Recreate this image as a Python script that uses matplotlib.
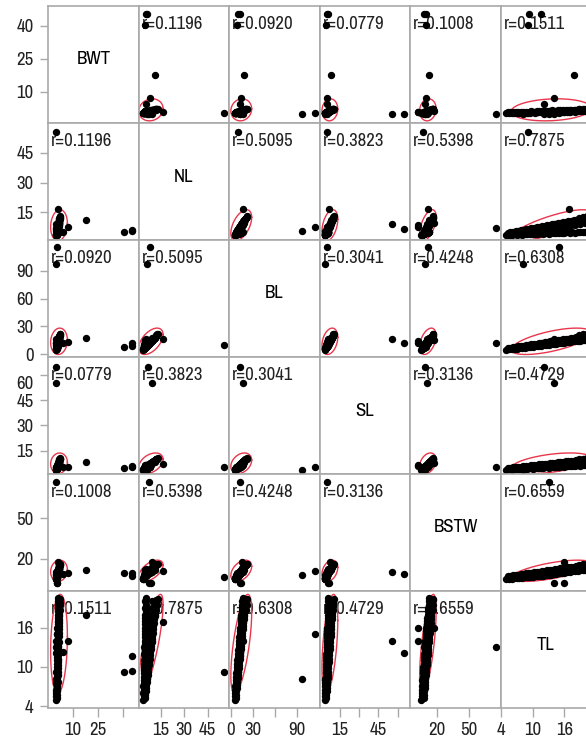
import numpy as np
import matplotlib
matplotlib.use('Agg')
from matplotlib import pyplot as plt
from matplotlib import font_manager

names = ['BWT', 'NL', 'BL', 'SL', 'BSTW', 'TL']

tl = [5.0, 5.5, 6.0, 6.5, 7.0, 7.5, 8.0, 8.5, 9.0, 9.5, 10.0, 10.5, 11.0, 11.5, 12.0, 12.5,
      13.0, 13.5, 14.0, 14.5, 15.0, 15.5, 16.0, 16.5, 17.0, 17.5, 18.0, 18.5, 19.0, 19.5, 20.0, 20.5,
      5.25, 5.75, 6.25, 6.75, 7.25, 7.75, 8.25, 8.75, 9.25, 9.75, 10.25, 10.75, 11.25, 11.75, 12.25,
      12.75, 13.25, 13.75, 14.25, 14.75, 15.25, 15.75, 16.25, 16.75, 17.25, 17.75, 18.25, 18.75,
      19.25, 19.75, 20.25,
      11.0, 12.0, 13.0, 14.0, 15.0, 16.0, 17.0, 18.0, 19.0, 20.0,
      20.3, 19.5, 18.7,
      9.2, 9.3, 11.6, 17.9, 14.0, 12.2, 9.2, 16.9, 15.0, 8.2, 12.1, 14.0, 13.1, 15.9, 14.0, 15.9]
nl = [3.5, 3.8, 3.6, 3.9, 3.7, 4.0, 3.8, 4.1, 3.9, 4.2, 4.0, 4.3, 4.1, 4.4, 4.2, 4.5,
      4.3, 4.6, 4.4, 4.7, 4.5, 4.8, 4.6, 4.9, 4.7, 5.0, 4.8, 5.1, 4.9, 5.2, 5.0, 5.3,
      4.6, 4.9, 5.1, 5.4, 5.6, 5.9, 6.1, 6.4, 6.6, 6.9, 7.1, 7.4, 7.6, 7.9, 8.1,
      8.4, 8.6, 8.9, 9.1, 9.4, 9.6, 9.9, 10.1, 10.4, 10.6, 10.9, 11.1, 11.4,
      11.6, 11.9, 12.1,
      5.8, 6.2, 6.6, 7.0, 7.4, 7.8, 8.2, 8.6, 9.0, 9.4,
      13.0, 12.6, 12.0,
      5.0, 5.5, 6.0, 11.2, 7.8, 5.2, 55.5, 16.5, 7.8, 5.8, 6.5, 9.2, 7.0, 8.5, 7.5, 9.5]
bl = [5.0, 5.6, 5.4, 6.1, 6.0, 6.6, 6.8, 7.2, 7.4, 7.9, 8.1, 8.6, 8.8, 9.3, 9.6, 10.1,
      10.3, 10.8, 11.0, 11.5, 11.7, 12.3, 12.5, 13.0, 13.3, 13.8, 14.1, 14.6, 14.8, 15.3, 15.5, 16.0,
      6.6, 7.0, 7.5, 7.9, 8.4, 8.8, 9.3, 9.7, 10.2, 10.6, 11.1, 11.5, 12.0, 12.4, 12.9,
      13.3, 13.8, 14.2, 14.7, 15.1, 15.6, 16.0, 16.5, 16.9, 17.4, 17.8, 18.3, 18.7,
      19.2, 19.6, 20.1,
      10.5, 11.3, 12.0, 12.8, 13.6, 14.3, 15.1, 15.9, 16.6, 17.4,
      21.5, 22.0, 20.5,
      8.2, 8.9, 12.5, 17.6, 13.5, 12.0, 10.0, 16.5, 115.0, 97.0, 12.6, 16.5, 12.0, 14.0, 12.0, 15.0]
sl = [3.6, 3.9, 3.7, 4.0, 3.8, 4.1, 4.0, 4.3, 4.2, 4.4, 4.3, 4.6, 4.5, 4.8, 4.7, 5.0,
      4.9, 5.2, 5.1, 5.4, 5.3, 5.6, 5.5, 5.8, 5.7, 6.0, 5.9, 6.2, 6.1, 6.3, 6.2, 6.4,
      4.6, 4.8, 5.0, 5.2, 5.3, 5.5, 5.7, 5.9, 6.1, 6.2, 6.4, 6.6, 6.8, 6.9, 7.1,
      7.3, 7.5, 7.7, 7.8, 8.0, 8.2, 8.4, 8.6, 8.7, 8.9, 9.1, 9.3, 9.5,
      9.6, 9.8, 10.0,
      5.6, 6.0, 6.3, 6.6, 7.0, 7.3, 7.6, 7.9, 8.2, 8.5,
      10.5, 10.2, 9.9,
      4.5, 5.5, 5.8, 8.2, 5.2, 5.0, 5.0, 7.2, 5.3, 3.5, 65.0, 55.3, 5.5, 6.5, 6.0, 7.5]
bstw = [5.2, 5.6, 5.4, 5.9, 5.8, 6.2, 6.1, 6.5, 6.4, 6.9, 7.0, 7.3, 7.2, 7.7, 7.6, 8.1,
        8.0, 8.5, 8.8, 9.1, 9.3, 9.7, 9.9, 10.2, 10.5, 10.9, 11.0, 11.4, 11.6, 12.0, 12.1, 12.5,
        7.3, 7.6, 7.9, 8.2, 8.4, 8.8, 9.0, 9.3, 9.6, 9.9, 10.1, 10.4, 10.7, 11.0, 11.3,
        11.6, 11.8, 12.1, 12.4, 12.7, 13.0, 13.2, 13.5, 13.8, 14.1, 14.4, 14.6, 14.9,
        15.2, 15.5, 15.8,
        9.0, 9.6, 10.1, 10.7, 11.2, 11.7, 12.3, 12.8, 13.4, 13.9,
        16.5, 16.2, 15.8,
        9.5, 7.5, 9.9, 11.9, 9.4, 9.0, 7.0, 11.0, 11.0, 8.5, 9.0, 10.2, 76.5, 2.0, 2.0, 17.5]
bwt = [0.2, 0.3, 0.2, 0.3, 0.4, 0.3, 0.4, 0.5, 0.4, 0.5, 0.6, 0.5, 0.6, 0.7, 0.6, 0.7,
       0.8, 0.7, 0.8, 0.9, 0.8, 0.9, 1.0, 0.9, 1.0, 1.1, 1.0, 1.1, 1.2, 1.1, 1.2, 1.3,
       0.6, 0.7, 0.6, 0.8, 0.7, 0.9, 0.8, 1.0, 0.9, 1.1, 1.0, 1.2, 1.1, 1.3, 1.2,
       1.4, 1.3, 1.5, 1.4, 1.6, 1.5, 1.7, 1.6, 1.8, 1.7, 1.9, 1.8, 2.0,
       1.9, 2.1, 2.0,
       0.9, 1.0, 1.1, 1.2, 1.3, 1.4, 1.5, 1.6, 1.7, 1.8,
       2.3, 2.2, 2.4,
       40.6, 45.4, 45.4, 17.7, 7.2, 4.3, 0.2, 0.9, 0.5, 0.1, 0.1, 0.1, 0.1, 0.8, 0.7, 1.2]

# correlations printed in the panels
r_matrix = [
    [1.0, 0.1196, 0.0920, 0.0779, 0.1008, 0.1511],
    [0.1196, 1.0, 0.5095, 0.3823, 0.5398, 0.7875],
    [0.0920, 0.5095, 1.0, 0.3041, 0.4248, 0.6308],
    [0.0779, 0.3823, 0.3041, 1.0, 0.3136, 0.4729],
    [0.1008, 0.5398, 0.4248, 0.3136, 1.0, 0.6559],
    [0.1511, 0.7875, 0.6308, 0.4729, 0.6559, 1.0],
]

# centre and spread used by the 95% density ellipses
ell_mean = [1.8, 8.5, 14.0, 7.5, 11.3, 13.5]
ell_sd = [2.05, 3.2, 5.8, 2.5, 3.2, 3.1]

# axis ranges and ticks
x_lims = [(-4.6, 49.5), (0.7, 59.0), (-2.3, 121.0), (-0.3, 69.8), (-5.4, 80.6), (3.96, 21.1)]
y_lims = [(-4.2, 49.1), (1.06, 60.1), (-2.9, 123.0), (1.1, 70.7), (-3.6, 82.6), (3.7, 21.6)]
x_ticks = [[10, 25, 40], [15, 30, 45], [0, 30, 60, 90], [15, 30, 45, 60], [20, 50], [4, 10, 16]]
x_tick_labels = [['10', '25', ''], ['15', '30', '45'], ['0', '30', '', '90'],
                 ['15', '', '45', ''], ['20', '50'], ['4', '10', '16']]
y_ticks = [[10, 25, 40], [15, 30, 45], [0, 30, 60, 90], [15, 30, 45, 60], [20, 50], [4, 10, 16]]
y_tick_labels = [['10', '25', '40'], ['15', '30', '45'], ['0', '30', '60', '90'],
                 ['15', '30', '45', ''], ['20', '50'], ['4', '10', '16']]

GRAY = '#a9a9a9'
RED = '#e8374c'


def pick_font():
    # prefer a narrow face, the labels in the original are condensed
    found = font_manager.fontManager.ttflist
    for f in found:
        if 'Narrow' in f.name and f.style == 'normal':
            return {'family': f.name, 'stretch': f.stretch}, 13.5
    for f in found:
        if f.stretch in ('condensed', 'semi-condensed') and f.style == 'normal' and f.weight in (400, 'normal'):
            return {'family': f.name, 'stretch': f.stretch}, 13.5
    return {'family': 'Liberation Sans', 'stretch': 'normal'}, 10.5


def density_ellipse(mx, my, sx, sy, r, level=0.95):
    c = np.sqrt(-2 * np.log(1 - level))
    t = np.linspace(0, 2 * np.pi, 240)
    u, v = np.cos(t), np.sin(t)
    return mx + c * sx * u, my + c * sy * (r * u + np.sqrt(1 - r ** 2) * v)


def main():
    font, fs = pick_font()
    plt.rcParams['font.family'] = [font['family'], 'DejaVu Sans']
    plt.rcParams['font.stretch'] = font['stretch']
    data = [np.array(bwt), np.array(nl), np.array(bl), np.array(sl), np.array(bstw), np.array(tl)]

    W, H = 586, 743
    left0, top0, pw, ph = 48.3, 6.0, 90.5, 117.0
    fig = plt.figure(figsize=(W / 100, H / 100), dpi=100)

    n = len(names)
    for i in range(n):
        for j in range(n):
            ax = fig.add_axes([(left0 + j * pw) / W, 1 - (top0 + (i + 1) * ph) / H, pw / W, ph / H])
            ax.set_xlim(*x_lims[j])
            ax.set_ylim(*y_lims[i])
            for s in ax.spines.values():
                s.set_color(GRAY)
                s.set_linewidth(1.2)
            ax.tick_params(colors=GRAY, labelcolor='#222222', labelsize=fs, length=6, width=1.0)

            if j == 0:
                ax.set_yticks(y_ticks[i], y_tick_labels[i])
                ax.tick_params(axis='y', pad=4.5)
            else:
                ax.set_yticks([])
            if i == n - 1:
                ax.set_xticks(x_ticks[j], x_tick_labels[j])
                ax.tick_params(axis='x', length=6.5, pad=3.5)
            else:
                ax.set_xticks([])

            if i == j:
                ax.text(0.5, 1 - 53.5 / ph, names[i], ha='center', va='center',
                        fontsize=fs, transform=ax.transAxes)
                continue

            r = r_matrix[i][j]
            ex, ey = density_ellipse(ell_mean[j], ell_mean[i], ell_sd[j], ell_sd[i], r)
            ax.plot(ex, ey, color=RED, lw=1.0, zorder=2)
            ax.plot(data[j], data[i], 'o', color='black', ms=5.3, mew=0, zorder=3)
            ax.text(3 / pw, 1 - 18 / ph, f'r={r:.4f}', ha='left', va='center',
                    fontsize=fs, color='#222222', transform=ax.transAxes, zorder=1)

        if i == 3:
            # the 60 label sits a little below its tick to clear the 0 above it
            ax0 = fig.axes[i * n]
            ax0.annotate('60', xy=(0, 60), xycoords=('axes fraction', 'data'),
                         xytext=(-15, -9), textcoords='offset pixels',
                         ha='right', va='center', fontsize=fs, color='#222222',
                         annotation_clip=False)

    fig.savefig('out.png', dpi=100)


if __name__ == '__main__':
    main()
